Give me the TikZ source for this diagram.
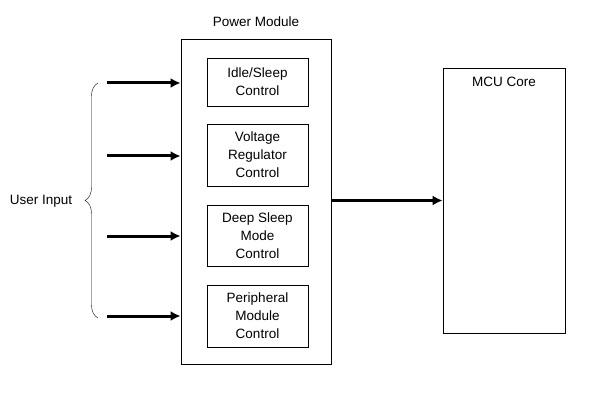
\documentclass[tikz,border=0pt]{standalone}
\usepackage{fontspec}
\setmainfont{Liberation Sans}
\usepackage{tikz}
\usetikzlibrary{arrows.meta, decorations.pathreplacing}

\tikzset{
    ctrlbox/.style={draw, thick, minimum width=101pt, align=center, inner sep=0pt},
    bigbox/.style={draw, thick},
    bigarrow/.style={-{Latex[length=10pt, width=10pt]}, line width=3pt}
}

\begin{document}
\begin{tikzpicture}[x=1pt, y=-1pt, font=\fontsize{13.5}{18}\selectfont]
        \useasboundingbox (0, 0) rectangle (592, 401);

        \node[bigbox, minimum width=150pt, minimum height=325pt] (pm) at (256, 201.5) {};
        \node[anchor=center] (pmlabel) at (256, 22) {Power Module};

        \node[ctrlbox, minimum height=48pt] (idle) at (257.5, 82) {Idle/Sleep\\Control};
        \node[ctrlbox, minimum height=62pt] (volt) at (257.5, 155) {Voltage\\Regulator\\Control};
        \node[ctrlbox, minimum height=61pt] (deep) at (257.5, 235.5) {Deep Sleep\\Mode\\Control};
        \node[ctrlbox, minimum height=62pt] (periph) at (257.5, 316) {Peripheral\\Module\\Control};

        \node[bigbox, minimum width=122pt, minimum height=265pt] (mcu) at (504, 200.5) {};
        \node[anchor=center] (mculabel) at (504, 82) {MCU Core};

        \foreach \y [count=\i] in {83, 156, 236, 316} {
            \coordinate (in\i) at (107, \y);
            \draw[bigarrow] (in\i) -- (in\i -| pm.west);
        }

        \draw[bigarrow] (pm.east |- mcu.west) -- (mcu.west);

        \coordinate (bracebot) at (98, 318);
        \coordinate (bracetop) at (98, 83);
        \draw[decorate, decoration={brace, amplitude=13pt}] (bracebot) -- (bracetop);

        \node[anchor=center] (user) at (41, 201) {User Input};

    \end{tikzpicture}
\end{document}
